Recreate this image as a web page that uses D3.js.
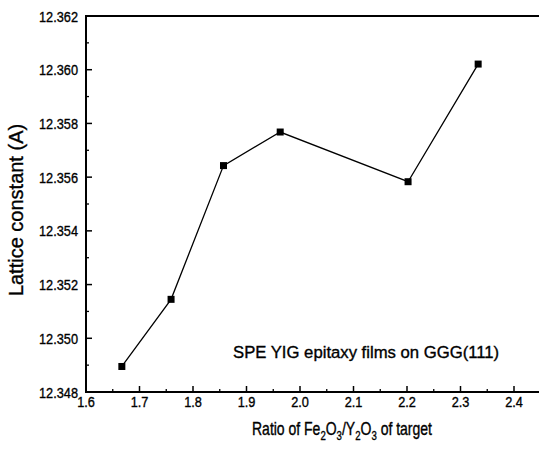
<!DOCTYPE html>
<html>
<head>
<meta charset="utf-8">
<script src="https://cdn.jsdelivr.net/npm/d3@7"></script>
<style>
  html, body { margin: 0; padding: 0; background: #fff; }
  text { font-family: "Liberation Sans", Arial, sans-serif; fill: #000; stroke: #000; stroke-width: 0.35px; }
</style>
</head>
<body>
<div id="chart"></div>
<script>
// values
const ratio = [1.667, 1.759, 1.857, 1.963, 2.202, 2.333];
const lattice = [12.34895, 12.35145, 12.35643, 12.35768, 12.35583, 12.36021];
const xTicks = [1.6, 1.7, 1.8, 1.9, 2.0, 2.1, 2.2, 2.3, 2.4];
const yTicks = [12.348, 12.350, 12.352, 12.354, 12.356, 12.358, 12.360, 12.362];
const annotation = "SPE YIG epitaxy films on GGG(111)";

const width = 539, height = 457;
const margin = { top: 16, left: 86, bottom: 65 };

const svg = d3.select("#chart").append("svg")
    .attr("width", width)
    .attr("height", height);

const x = d3.scaleLinear().domain([1.6, 2.45]).range([margin.left, margin.left + 535 * 0.85]);
const y = d3.scaleLinear().domain([12.348, 12.362]).range([height - margin.bottom, margin.top]);

const data = ratio.map((r, i) => ({ r: r, v: lattice[i] }));

// minor ticks
const xMinor = d3.range(1.65, 2.45, 0.1);
const yMinor = d3.range(12.349, 12.362, 0.002);

const g = svg.append("g");

g.selectAll(".xminor").data(xMinor).enter().append("line")
    .attr("x1", d => x(d)).attr("x2", d => x(d))
    .attr("y1", y.range()[0]).attr("y2", y.range()[0] - 3)
    .attr("stroke", "#000").attr("stroke-width", 1.3);
g.selectAll(".xmajor").data(xTicks).enter().append("line")
    .attr("x1", d => x(d)).attr("x2", d => x(d))
    .attr("y1", y.range()[0]).attr("y2", y.range()[0] - 6)
    .attr("stroke", "#000").attr("stroke-width", 1.5);
g.selectAll(".yminor").data(yMinor).enter().append("line")
    .attr("x1", x.range()[0]).attr("x2", x.range()[0] + 3)
    .attr("y1", d => y(d)).attr("y2", d => y(d))
    .attr("stroke", "#000").attr("stroke-width", 1.3);
g.selectAll(".ymajor").data(yTicks).enter().append("line")
    .attr("x1", x.range()[0]).attr("x2", x.range()[0] + 6)
    .attr("y1", d => y(d)).attr("y2", d => y(d))
    .attr("stroke", "#000").attr("stroke-width", 1.5);

// frame: left, bottom, top
g.append("path")
    .attr("d", `M${x.range()[1]},${y.range()[1]} H${x.range()[0]} V${y.range()[0]} H${x.range()[1]}`)
    .attr("fill", "none")
    .attr("stroke", "#000")
    .attr("stroke-width", 2);

// tick labels
g.selectAll(".xlab").data(xTicks).enter().append("text")
    .attr("transform", d => `translate(${x(d)},${y.range()[0] + 15}) scale(0.85,1)`)
    .attr("text-anchor", "middle")
    .style("font-size", "15px")
    .text(d => d.toFixed(1));

g.selectAll(".ylab").data(yTicks).enter().append("text")
    .attr("transform", d => `translate(${x.range()[0] - 8},${y(d) + 5.5}) scale(0.85,1)`)
    .attr("text-anchor", "end")
    .style("font-size", "15px")
    .text(d => d.toFixed(3));

// data line + markers
const line = d3.line().x(d => x(d.r)).y(d => y(d.v));
g.append("path")
    .datum(data)
    .attr("d", line)
    .attr("fill", "none")
    .attr("stroke", "#000")
    .attr("stroke-width", 1.3);

g.selectAll(".pt").data(data).enter().append("rect")
    .attr("x", d => x(d.r) - 3.5)
    .attr("y", d => y(d.v) - 3.5)
    .attr("width", 7)
    .attr("height", 7)
    .attr("fill", "#000");

// annotation
g.append("text")
    .attr("x", 233)
    .attr("y", 358)
    .style("font-size", "16.7px")
    .text(annotation);

// axis titles
const xt = g.append("text")
    .attr("transform", `translate(252,435) scale(0.8,1)`)
    .style("font-size", "17.5px");
xt.append("tspan").text("Ratio of Fe");
xt.append("tspan").attr("dy", 5).style("font-size", "12px").text("2");
xt.append("tspan").attr("dy", -5).text("O");
xt.append("tspan").attr("dy", 5).style("font-size", "12px").text("3");
xt.append("tspan").attr("dy", -5).text("/Y");
xt.append("tspan").attr("dy", 5).style("font-size", "12px").text("2");
xt.append("tspan").attr("dy", -5).text("O");
xt.append("tspan").attr("dy", 5).style("font-size", "12px").text("3");
xt.append("tspan").attr("dy", -5).text(" of target");

g.append("text")
    .attr("transform", `translate(23,210) rotate(-90)`)
    .attr("text-anchor", "middle")
    .style("font-size", "20px")
    .text("Lattice constant (A)");
</script>
</body>
</html>
